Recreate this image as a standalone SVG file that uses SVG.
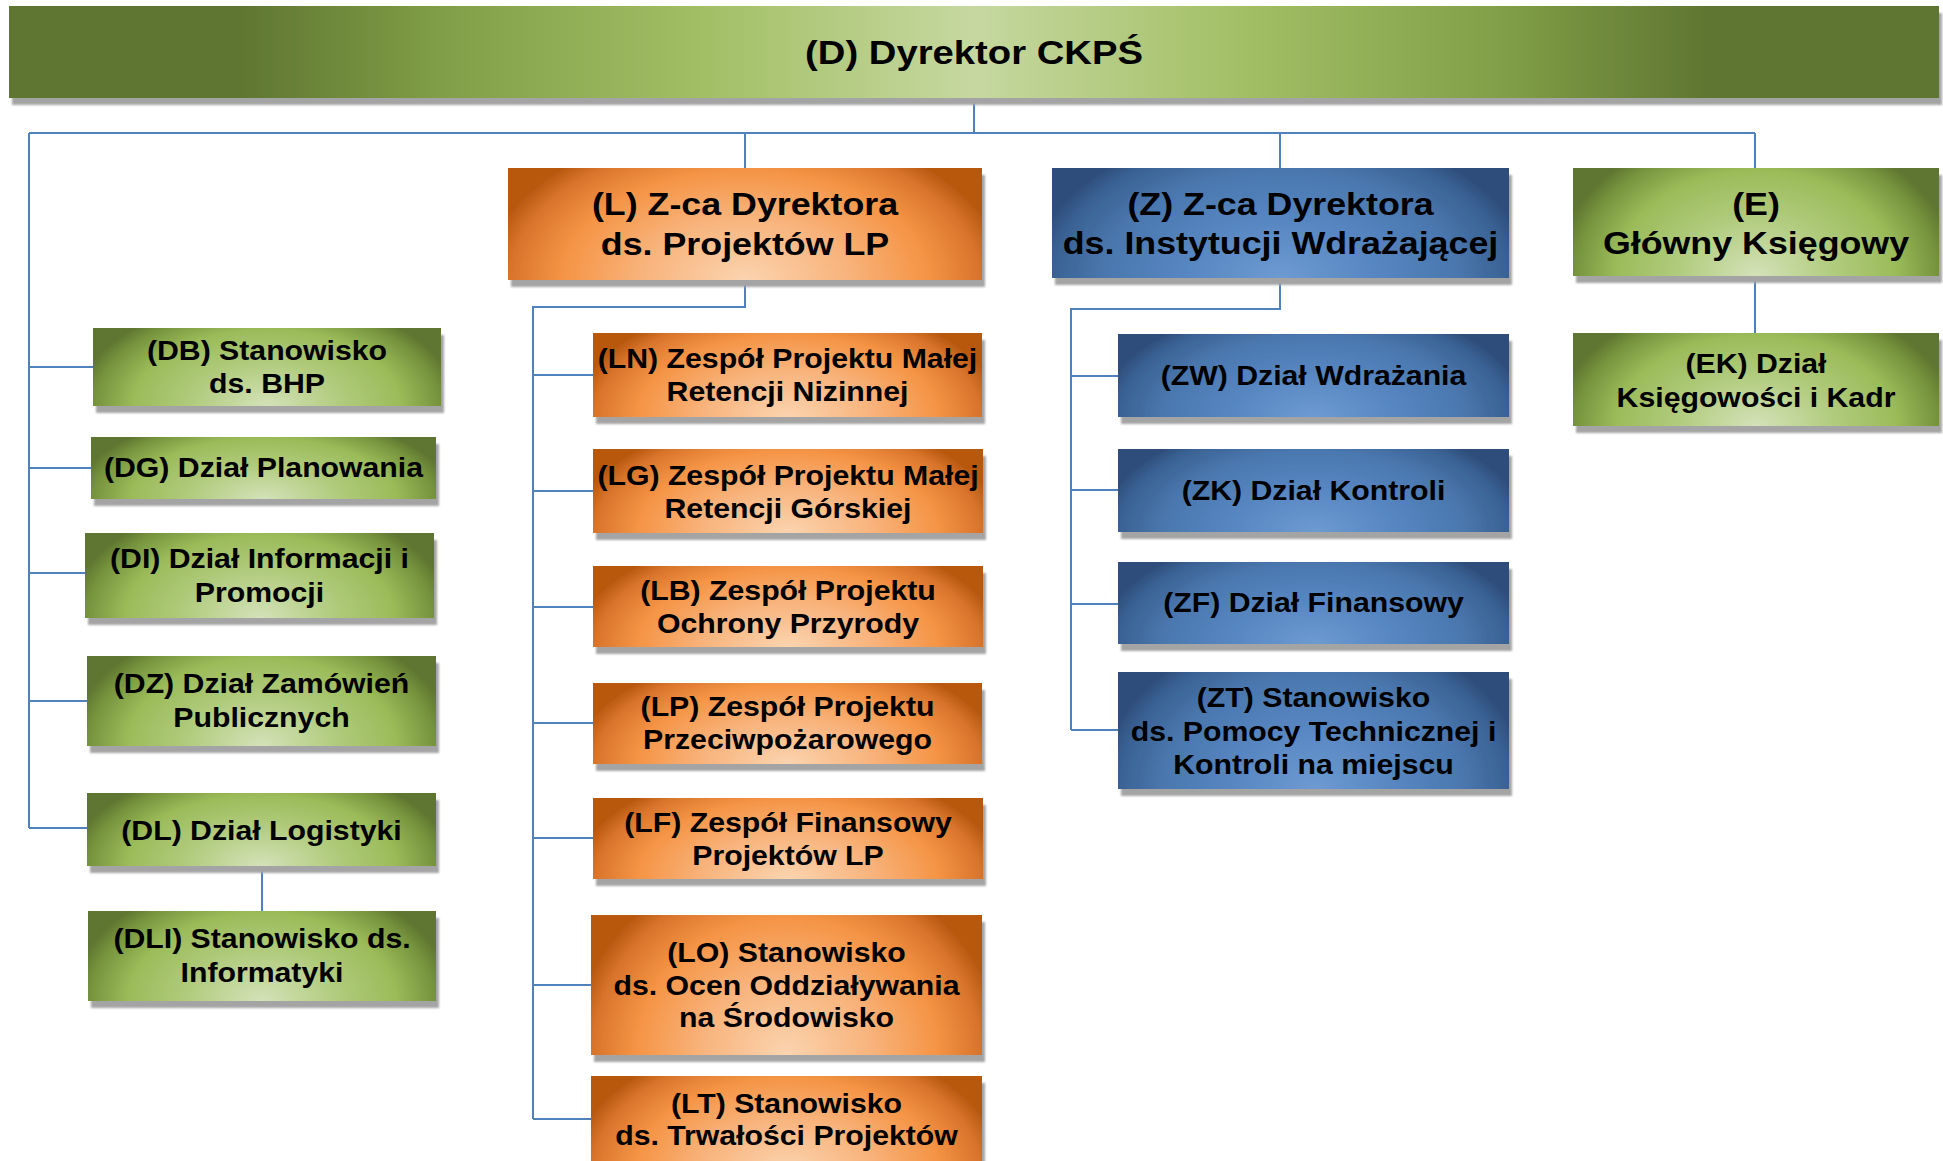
<svg xmlns="http://www.w3.org/2000/svg" width="1943" height="1161" viewBox="0 0 1943 1161">
<style>
.t{font-family:"Liberation Sans",Arial,sans-serif;font-weight:bold;fill:#000;text-anchor:middle}
.s{font-size:28px}
.h{font-size:31px}
.top{font-size:34px}
.c{fill:none;stroke:#4f81bd;stroke-width:2}
.gr{fill:url(#gG);filter:url(#sh)}
.or{fill:url(#gO);filter:url(#sh)}
.bl{fill:url(#gB);filter:url(#sh)}
</style>
<defs>
<filter id="sh" x="-3%" y="-5%" width="106%" height="135%">
<feGaussianBlur in="SourceAlpha" stdDeviation="0.8" result="b"/>
<feOffset in="b" dx="3" dy="7" result="o"/>
<feFlood flood-color="#a4a4a4"/>
<feComposite in2="o" operator="in" result="s"/>
<feMerge><feMergeNode in="s"/><feMergeNode in="SourceGraphic"/></feMerge>
</filter>
<linearGradient id="gTop" x1="0" y1="0" x2="1" y2="0">
<stop offset="0" stop-color="#5e7530"/>
<stop offset="0.12" stop-color="#5f7631"/>
<stop offset="0.23" stop-color="#82a048"/>
<stop offset="0.36" stop-color="#a2bf65"/>
<stop offset="0.5" stop-color="#c6d8a0"/>
<stop offset="0.64" stop-color="#a2bf65"/>
<stop offset="0.77" stop-color="#82a048"/>
<stop offset="0.88" stop-color="#5f7631"/>
<stop offset="1" stop-color="#5e7530"/>
</linearGradient>
<radialGradient id="gG" cx="0.5" cy="1" r="0.5" gradientTransform="translate(0.5 1) scale(1.1 2.8) translate(-0.5 -1)">
<stop offset="0" stop-color="#d4e2b9"/>
<stop offset="0.4" stop-color="#b0cb7c"/>
<stop offset="0.7" stop-color="#9bbb59"/>
<stop offset="0.9" stop-color="#76933d"/>
<stop offset="1" stop-color="#5e7530"/>
</radialGradient>
<radialGradient id="gO" cx="0.5" cy="1" r="0.5" gradientTransform="translate(0.5 1) scale(1.1 2.8) translate(-0.5 -1)">
<stop offset="0" stop-color="#fbd4b0"/>
<stop offset="0.4" stop-color="#f8b37b"/>
<stop offset="0.7" stop-color="#f59445"/>
<stop offset="0.9" stop-color="#d8742b"/>
<stop offset="1" stop-color="#b8580f"/>
</radialGradient>
<radialGradient id="gB" cx="0.5" cy="1" r="0.5" gradientTransform="translate(0.5 1) scale(1.1 2.8) translate(-0.5 -1)">
<stop offset="0" stop-color="#6d9ad1"/>
<stop offset="0.4" stop-color="#5685c0"/>
<stop offset="0.7" stop-color="#4a77ae"/>
<stop offset="0.9" stop-color="#3a6294"/>
<stop offset="1" stop-color="#2d4d7a"/>
</radialGradient>
</defs>
<rect width="1943" height="1161" fill="#fff"/>

<g id="connectors">
<path class="c" d="M974 98V133M29 133H1755M745 133V168M1280 133V168M1755 133V168"/>
<path class="c" d="M29 133V828M29 367H93M29 468H91M29 573H85M29 701H87M29 828H87M262 866V911"/>
<path class="c" d="M745 280V307H533V1119M533 375H593M533 491H593M533 607H593M533 723H593M533 838H593M533 985H591M533 1119H591"/>
<path class="c" d="M1280 278V309H1071V730M1071 376H1118M1071 490H1118M1071 604H1118M1071 730H1118"/>
<path class="c" d="M1755 276V333"/>
</g>

<g id="n-D">
<rect x="9" y="6" width="1930" height="92" fill="url(#gTop)" filter="url(#sh)"/>
<text class="t top" transform="translate(974 0) scale(1.125 1)"><tspan x="0" y="64.5">(D) Dyrektor CKPŚ</tspan></text>
</g>

<g id="n-L">
<rect class="or" x="508" y="168" width="474" height="112"/>
<text class="t h" transform="translate(745 0) scale(1.155 1)"><tspan x="0" y="215">(L) Z-ca Dyrektora</tspan><tspan x="0" y="255">ds. Projektów LP</tspan></text>
</g>
<g id="n-Z">
<rect class="bl" x="1052" y="168" width="457" height="110"/>
<text class="t h" transform="translate(1280.5 0) scale(1.155 1)"><tspan x="0" y="215">(Z) Z-ca Dyrektora</tspan><tspan x="0" y="254">ds. Instytucji Wdrażającej</tspan></text>
</g>
<g id="n-E">
<rect class="gr" x="1573" y="168" width="366" height="108"/>
<text class="t h" transform="translate(1756 0) scale(1.155 1)"><tspan x="0" y="215">(E)</tspan><tspan x="0" y="254">Główny Księgowy</tspan></text>
</g>

<g id="n-DB">
<rect class="gr" x="93" y="328" width="348" height="78"/>
<text class="t s" transform="translate(267 0) scale(1.08 1)"><tspan x="0" y="360">(DB) Stanowisko</tspan><tspan x="0" y="393">ds. BHP</tspan></text>
</g>
<g id="n-DG">
<rect class="gr" x="91" y="437" width="345" height="62"/>
<text class="t s" transform="translate(263.5 0) scale(1.08 1)"><tspan x="0" y="477.5">(DG) Dział Planowania</tspan></text>
</g>
<g id="n-DI">
<rect class="gr" x="85" y="533" width="349" height="85"/>
<text class="t s" transform="translate(259.5 0) scale(1.08 1)"><tspan x="0" y="568.5">(DI) Dział Informacji i</tspan><tspan x="0" y="602">Promocji</tspan></text>
</g>
<g id="n-DZ">
<rect class="gr" x="87" y="656" width="349" height="90"/>
<text class="t s" transform="translate(261.5 0) scale(1.08 1)"><tspan x="0" y="693.5">(DZ) Dział Zamówień</tspan><tspan x="0" y="727">Publicznych</tspan></text>
</g>
<g id="n-DL">
<rect class="gr" x="87" y="793" width="349" height="73"/>
<text class="t s" transform="translate(261.5 0) scale(1.08 1)"><tspan x="0" y="840">(DL) Dział Logistyki</tspan></text>
</g>
<g id="n-DLI">
<rect class="gr" x="88" y="911" width="348" height="90"/>
<text class="t s" transform="translate(262 0) scale(1.08 1)"><tspan x="0" y="948.5">(DLI) Stanowisko ds.</tspan><tspan x="0" y="982">Informatyki</tspan></text>
</g>

<g id="n-LN">
<rect class="or" x="593" y="333" width="389" height="84"/>
<text class="t s" transform="translate(787.5 0) scale(1.08 1)"><tspan x="0" y="368.5">(LN) Zespół Projektu Małej</tspan><tspan x="0" y="401.5">Retencji Nizinnej</tspan></text>
</g>
<g id="n-LG">
<rect class="or" x="593" y="449" width="390" height="84"/>
<text class="t s" transform="translate(788 0) scale(1.08 1)"><tspan x="0" y="485">(LG) Zespół Projektu Małej</tspan><tspan x="0" y="518">Retencji Górskiej</tspan></text>
</g>
<g id="n-LB">
<rect class="or" x="593" y="566" width="390" height="81"/>
<text class="t s" transform="translate(788 0) scale(1.08 1)"><tspan x="0" y="600.5">(LB) Zespół Projektu</tspan><tspan x="0" y="633.5">Ochrony Przyrody</tspan></text>
</g>
<g id="n-LP">
<rect class="or" x="593" y="683" width="389" height="81"/>
<text class="t s" transform="translate(787.5 0) scale(1.08 1)"><tspan x="0" y="716.5">(LP) Zespół Projektu</tspan><tspan x="0" y="749.5">Przeciwpożarowego</tspan></text>
</g>
<g id="n-LF">
<rect class="or" x="593" y="798" width="390" height="81"/>
<text class="t s" transform="translate(788 0) scale(1.08 1)"><tspan x="0" y="832.5">(LF) Zespół Finansowy</tspan><tspan x="0" y="865.5">Projektów LP</tspan></text>
</g>
<g id="n-LO">
<rect class="or" x="591" y="915" width="391" height="140"/>
<text class="t s" transform="translate(786.5 0) scale(1.08 1)"><tspan x="0" y="962.5">(LO) Stanowisko</tspan><tspan x="0" y="995">ds. Ocen Oddziaływania</tspan><tspan x="0" y="1027.5">na Środowisko</tspan></text>
</g>
<g id="n-LT">
<rect class="or" x="591" y="1076" width="391" height="95"/>
<text class="t s" transform="translate(786.5 0) scale(1.08 1)"><tspan x="0" y="1113">(LT) Stanowisko</tspan><tspan x="0" y="1145">ds. Trwałości Projektów</tspan></text>
</g>

<g id="n-ZW">
<rect class="bl" x="1118" y="334" width="391" height="83"/>
<text class="t s" transform="translate(1313.5 0) scale(1.08 1)"><tspan x="0" y="385.5">(ZW) Dział Wdrażania</tspan></text>
</g>
<g id="n-ZK">
<rect class="bl" x="1118" y="449" width="391" height="83"/>
<text class="t s" transform="translate(1313.5 0) scale(1.08 1)"><tspan x="0" y="500.5">(ZK) Dział Kontroli</tspan></text>
</g>
<g id="n-ZF">
<rect class="bl" x="1118" y="562" width="391" height="82"/>
<text class="t s" transform="translate(1313.5 0) scale(1.08 1)"><tspan x="0" y="612.5">(ZF) Dział Finansowy</tspan></text>
</g>
<g id="n-ZT">
<rect class="bl" x="1118" y="672" width="391" height="117"/>
<text class="t s" transform="translate(1313.5 0) scale(1.08 1)"><tspan x="0" y="707.5">(ZT) Stanowisko</tspan><tspan x="0" y="741">ds. Pomocy Technicznej i</tspan><tspan x="0" y="774.5">Kontroli na miejscu</tspan></text>
</g>

<g id="n-EK">
<rect class="gr" x="1573" y="333" width="366" height="93"/>
<text class="t s" transform="translate(1756 0) scale(1.08 1)"><tspan x="0" y="373.5">(EK) Dział</tspan><tspan x="0" y="407">Księgowości i Kadr</tspan></text>
</g>
</svg>
